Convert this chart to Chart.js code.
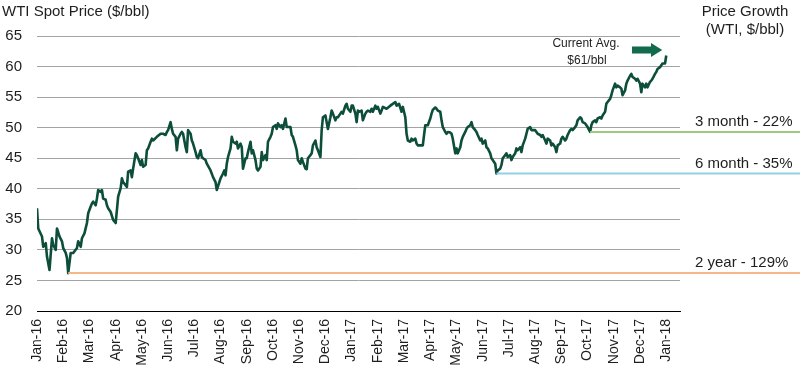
<!DOCTYPE html>
<html><head><meta charset="utf-8">
<script src="https://cdn.jsdelivr.net/npm/chart.js@4.4.1/dist/chart.umd.min.js"></script>
<style>html,body{margin:0;padding:0;background:#fff;}#wrap{width:800px;height:377px;position:relative;}</style>
</head><body><div id="wrap"><canvas id="c" width="800" height="377"></canvas></div>
<script>
// Month tick labels (one every 21 trading days)
const monthLabels = ['Jan-16','Feb-16','Mar-16','Apr-16','May-16','Jun-16','Jul-16','Aug-16','Sep-16','Oct-16','Nov-16','Dec-16',
  'Jan-17','Feb-17','Mar-17','Apr-17','May-17','Jun-17','Jul-17','Aug-17','Sep-17','Oct-17','Nov-17','Dec-17','Jan-18'];
const daysPerMonth = 21;

// Trading-day index since start of Jan-16
const tradingDays = [
  0,1,4,5,7,8,10,12,13,15,
  16,18,20,21,23,24,25,27,29,32,
  33,35,36,38,40,41,43,44,45,47,
  48,49,51,52,53,55,56,57,59,61,
  63,64,65,67,68,69,72,73,75,76,
  77,79,80,81,83,84,85,87,88,89,
  91,92,93,96,99,101,103,104,105,107,
  108,109,111,112,113,115,116,117,119,120,
  121,123,124,125,127,128,129,131,132,133,
  135,136,139,141,143,144,147,149,150,151,
  152,153,155,156,157,159,160,161,163,164,
  165,167,168,169,171,172,173,175,176,177,
  179,180,181,183,184,185,187,188,189,191,
  192,193,195,196,197,199,200,203,204,205,
  207,208,209,211,212,213,215,216,217,219,
  220,221,223,224,225,227,228,229,231,232,
  233,235,236,237,239,240,241,243,244,245,
  247,248,249,251,252,253,255,256,257,258,
  260,261,263,264,265,267,268,269,271,272,
  273,275,276,277,280,283,285,287,288,290,
  292,293,295,296,297,299,300,301,303,304,
  305,307,309,310,311,313,315,316,317,319,
  320,321,323,324,325,327,328,329,331,332,
  333,335,336,337,339,340,341,343,344,345,
  347,348,349,351,352,353,355,356,357,359,
  360,361,363,364,365,367,368,369,371,372,
  373,375,376,377,379,380,381,383,384,385,
  387,388,389,391,392,393,395,396,397,399,
  400,401,403,404,405,407,408,409,411,412,
  413,415,416,417,419,420,421,423,424,425,
  427,428,429,431,432,433,435,436,437,439,
  440,441,443,444,445,447,448,449,451,452,
  453,455,456,457,459,460,461,463,464,465,
  467,468,469,471,472,473,475,476,477,479,
  480,481,483,484,485,487,488,489,491,492,
  493,495,496,497,499,500,501,503,504
];
// WTI spot price ($/bbl)
const prices = [
  36.8,33.5,32.2,30.5,31.1,28.9,26.7,31.9,30.8,30.0,
  33.5,32.2,31.4,30.3,29.5,28.7,26.2,29.5,29.5,30.3,
  31.4,30.5,31.9,32.7,34.4,36.0,37.1,37.6,37.9,37.3,
  38.4,39.8,39.5,39.8,38.4,38.2,37.3,36.8,36.2,34.9,
  34.4,36.5,38.7,40.1,41.7,41.1,40.3,42.8,43.0,41.9,
  43.3,45.8,45.5,45.0,43.9,44.7,43.6,43.9,46.3,46.6,
  47.7,48.2,47.9,48.5,49.0,49.0,48.8,49.3,49.6,50.9,
  49.8,49.0,48.5,46.3,48.2,49.0,49.3,49.0,46.8,46.0,
  49.6,49.0,47.9,47.4,46.0,45.2,45.0,46.3,45.2,45.0,
  44.7,44.1,43.0,41.9,41.1,39.8,41.7,42.5,43.0,42.2,
  44.1,45.2,46.6,48.5,47.7,47.4,47.7,46.6,47.4,46.8,
  43.3,45.0,45.0,46.0,47.7,45.8,46.3,44.7,43.3,43.0,
  43.6,46.0,44.7,45.5,44.7,47.7,48.5,49.0,50.1,50.4,
  49.8,50.7,50.1,50.4,49.8,51.5,50.1,50.1,48.8,48.5,
  47.1,46.3,44.7,44.1,45.0,44.4,43.3,43.2,45.0,45.5,
  45.8,47.1,47.9,46.8,46.3,45.2,49.6,51.7,52.0,50.9,
  49.8,51.7,52.8,52.3,51.2,51.7,51.7,52.3,52.6,52.3,
  53.6,53.9,53.1,52.6,53.6,53.6,52.3,50.9,52.8,52.6,
  52.8,51.2,52.3,52.6,52.8,52.6,53.1,52.6,53.6,53.1,
  53.4,52.3,52.8,53.4,53.1,53.6,53.9,54.2,53.6,53.9,
  52.6,53.4,51.7,49.0,47.9,47.7,48.2,47.9,48.2,47.4,
  47.1,47.1,47.1,48.8,50.4,50.4,51.5,52.3,52.9,53.3,
  53.1,52.8,52.6,51.2,50.1,49.3,49.0,49.3,49.2,49.0,
  48.2,45.8,46.6,45.8,46.8,47.9,48.5,49.3,49.8,50.1,
  50.4,50.9,50.1,49.6,49.3,48.8,47.9,48.2,47.4,47.9,
  46.8,46.6,45.8,45.0,44.7,44.1,42.5,43.0,43.3,43.9,
  45.0,45.5,45.8,45.2,45.5,44.7,45.2,45.8,46.6,46.3,
  46.8,46.0,47.1,48.2,49.0,49.8,50.1,49.6,49.6,49.6,
  49.3,49.0,48.8,48.5,48.8,47.9,47.4,48.2,47.9,47.1,
  47.4,46.8,46.0,47.1,47.4,48.2,48.5,47.9,48.2,48.8,
  49.6,49.8,49.6,50.1,50.4,51.2,51.7,51.5,50.9,50.7,
  50.4,50.1,49.3,50.4,50.9,51.2,50.9,51.5,51.7,51.5,
  52.0,52.6,53.9,54.2,54.7,55.3,56.1,57.2,56.6,56.9,
  56.6,56.4,55.3,56.1,57.2,57.7,58.5,58.8,58.3,58.0,
  57.7,58.0,57.2,55.8,57.2,56.6,57.2,56.6,57.5,57.7,
  58.0,58.8,59.1,59.6,59.9,60.2,60.5,60.5,61.8
];

// Growth reference lines
const growthLabels = ['3 month - 22%', '6 month - 35%', '2 year - 129%'];
const growthLevels = [49.3, 42.5, 26.2];
const growthStartDay = [443, 368, 25];
const growthColors = ['#9dcb7e', '#92d0e6', '#f5b68a'];

const FONT = "'Liberation Sans', Arial, sans-serif";
const TEXT = '#1e1e1e';

const overlay = {
  id: 'overlay',
  afterDatasetsDraw(chart) {
    const ctx = chart.ctx, xs = chart.scales.x, ys = chart.scales.y;
    ctx.save();
    growthLevels.forEach((lv, i) => {
      const y = ys.getPixelForValue(lv);
      const x0 = xs.getPixelForValue(growthStartDay[i]);
      ctx.strokeStyle = growthColors[i];
      ctx.lineWidth = 2;
      ctx.beginPath(); ctx.moveTo(x0, y); ctx.lineTo(800, y); ctx.stroke();
      ctx.fillStyle = TEXT;
      ctx.font = '15px ' + FONT;
      ctx.textAlign = 'left'; ctx.textBaseline = 'middle';
      ctx.fillText(growthLabels[i], 695, y - 10);
    });
    ctx.fillStyle = TEXT;
    ctx.font = '15px ' + FONT;
    ctx.textAlign = 'left'; ctx.textBaseline = 'middle';
    ctx.fillText('WTI Spot Price ($/bbl)', 2, 12);
    ctx.textAlign = 'center';
    ctx.fillText('Price Growth', 745, 12);
    ctx.fillText('(WTI, $/bbl)', 745, 30);
    ctx.font = '12px ' + FONT;
    ctx.fillText('Current Avg.', 586, 44);
    ctx.fillText('$61/bbl', 587, 61);
    const tipX = xs.getPixelForValue(tradingDays[tradingDays.length - 1]) - 4;
    const ay = 50;
    ctx.fillStyle = '#136b4d';
    ctx.fillRect(632, ay - 3.5, 20, 7);
    ctx.beginPath();
    ctx.moveTo(651, ay - 7); ctx.lineTo(tipX, ay); ctx.lineTo(651, ay + 7); ctx.closePath();
    ctx.fill();
    ctx.restore();
  }
};

new Chart(document.getElementById('c'), {
  type: 'line',
  data: {
    datasets: [{
      data: tradingDays.map((t, i) => ({ x: t, y: prices[i] })),
      borderColor: '#0d4e3b',
      borderWidth: 2.6,
      borderJoinStyle: 'round',
      pointRadius: 0,
      tension: 0,
      fill: false
    }]
  },
  options: {
    responsive: false,
    devicePixelRatio: 1,
    animation: false,
    layout: { padding: { left: 0, right: 120, top: 36, bottom: 0 } },
    plugins: { legend: { display: false }, tooltip: { enabled: false } },
    scales: {
      x: {
        type: 'linear',
        min: 0, max: 515,
        afterBuildTicks: (axis) => { axis.ticks = monthLabels.map((_, i) => ({ value: i * daysPerMonth })); },
        afterFit: (s) => { s.height = 66; },
        ticks: {
          autoSkip: false, maxRotation: 90, minRotation: 90, padding: 8,
          color: TEXT, font: { size: 14, family: FONT },
          callback: (v) => monthLabels[Math.round(v / daysPerMonth)]
        },
        grid: { display: true, color: 'rgba(0,0,0,0)', drawTicks: false },
        border: { display: true, color: '#000', width: 1 }
      },
      y: {
        min: 20, max: 65,
        afterFit: (s) => { s.width = 37; },
        ticks: { stepSize: 5, padding: 15, color: TEXT, font: { size: 15, family: FONT } },
        grid: { color: '#a3a3a3', lineWidth: 1, drawTicks: false },
        border: { display: false }
      }
    }
  },
  plugins: [overlay]
});
</script>
</body></html>
